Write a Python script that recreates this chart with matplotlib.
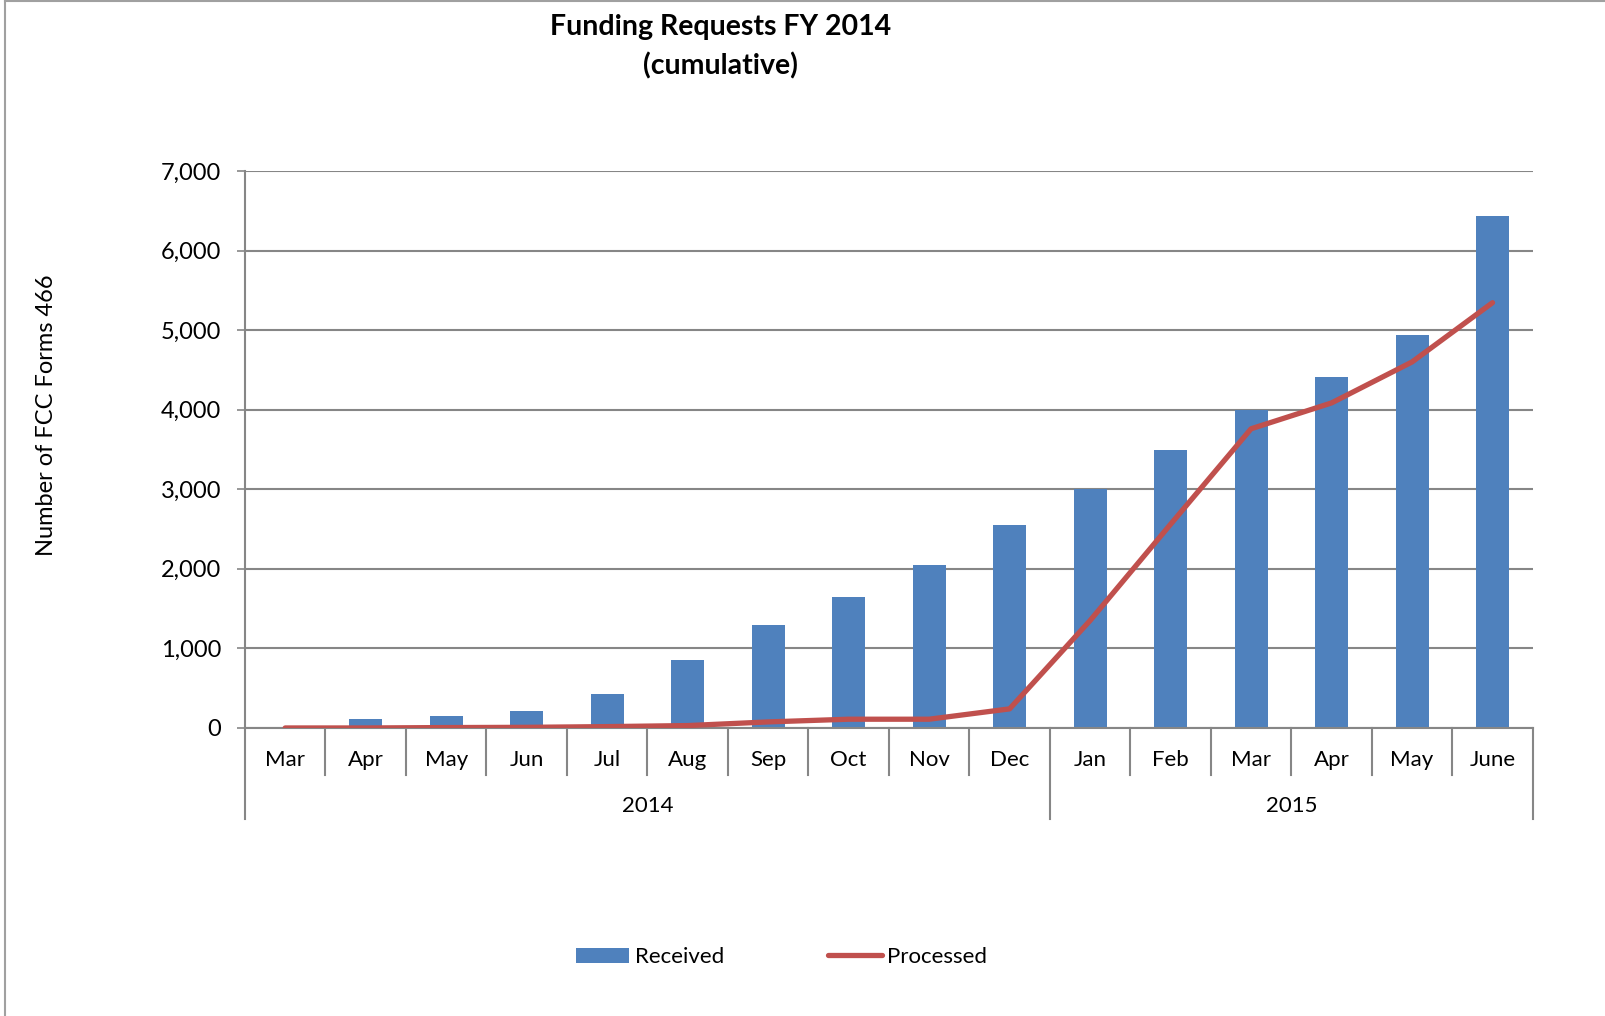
import matplotlib
matplotlib.use("Agg")
import matplotlib.pyplot as plt
from matplotlib.transforms import blended_transform_factory
from matplotlib.patches import Patch
from matplotlib.lines import Line2D

plt.rcParams['font.family'] = ['Lato', 'DejaVu Sans']

months = ["Mar", "Apr", "May", "Jun", "Jul", "Aug", "Sep", "Oct", "Nov", "Dec",
          "Jan", "Feb", "Mar", "Apr", "May", "June"]
years = ["2014", "2015"]
year_counts = [10, 6]
received = [10, 118, 148, 219, 426, 848, 1295, 1650, 2050, 2545,
            3000, 3495, 4000, 4415, 4940, 6440]
processed = [0, 0, 5, 8, 17, 30, 76, 110, 110, 240,
             1350, 2560, 3760, 4085, 4600, 5345]
yticks = [0, 1000, 2000, 3000, 4000, 5000, 6000, 7000]

BLUE = "#4F81BD"
RED = "#C0504D"
GRID = "#868686"

fig = plt.figure(figsize=(16.05, 10.16), dpi=100)
ax = fig.add_axes([0.1526, 0.2835, 0.8024, 0.5482])

x = list(range(len(months)))
ax.bar(x, received, width=0.41, color=BLUE, zorder=2)
ax.plot(x, processed, color=RED, lw=3.8, solid_capstyle='round', zorder=3)

ax.set_xlim(-0.5, len(months) - 0.5)
ax.set_ylim(0, 7000)
ax.set_yticks(yticks)
ax.set_yticklabels([f"{v:,}" for v in yticks], fontsize=17)
ax.yaxis.grid(True, color=GRID, lw=1.5, zorder=0)
ax.set_axisbelow(True)
ax.tick_params(axis='y', length=6, width=1.2, color=GRID, pad=11)
ax.set_xticks([])
for s in ["top", "right"]:
    ax.spines[s].set_visible(False)
ax.spines["left"].set_color(GRID)
ax.spines["left"].set_linewidth(1.5)
ax.spines["bottom"].set_color(GRID)
ax.spines["bottom"].set_linewidth(1.5)

trans = blended_transform_factory(ax.transData, ax.transAxes)
# month labels and separators
for i, m in enumerate(months):
    ax.text(i, -0.057, m, transform=trans, ha='center', va='center', fontsize=16)
year_bounds = [-0.5]
for c in year_counts:
    year_bounds.append(year_bounds[-1] + c)
for b in range(len(months) + 1):
    xb = b - 0.5
    bottom = -0.163 if xb in year_bounds else -0.084
    ax.plot([xb, xb], [0, bottom], transform=trans, color=GRID, lw=1.5,
            clip_on=False)
for j, yr in enumerate(years):
    xc = (year_bounds[j] + year_bounds[j + 1]) / 2
    ax.text(xc, -0.141, yr, transform=trans, ha='center', va='center', fontsize=16)

fig.text(0.449, 0.973, "Funding Requests FY 2014", ha='center', va='center',
         fontsize=20.5, fontweight='bold')
fig.text(0.449, 0.9355, "(cumulative)", ha='center', va='center',
         fontsize=20.5, fontweight='bold')
fig.text(0.029, 0.591, "Number of FCC Forms 466", rotation=90, ha='center',
         va='center', fontsize=17)

handles = [Patch(facecolor=BLUE, label="Received"),
           Line2D([0], [0], color=RED, lw=3.8, solid_capstyle='round', label="Processed")]
fig.legend(handles=handles, loc='center', bbox_to_anchor=(0.487, 0.058), ncol=2,
           frameon=False, fontsize=16, columnspacing=4.7, handlelength=2.4,
           handletextpad=0.25)

# outer frame (left and top visible)
fig.add_artist(Line2D([0.003, 0.003], [0, 0.999], color="#A0A0A0", lw=1.5,
                      transform=fig.transFigure))
fig.add_artist(Line2D([0.003, 1.0], [0.999, 0.999], color="#A0A0A0", lw=1.5,
                      transform=fig.transFigure))

fig.savefig("out.png", dpi=100)
